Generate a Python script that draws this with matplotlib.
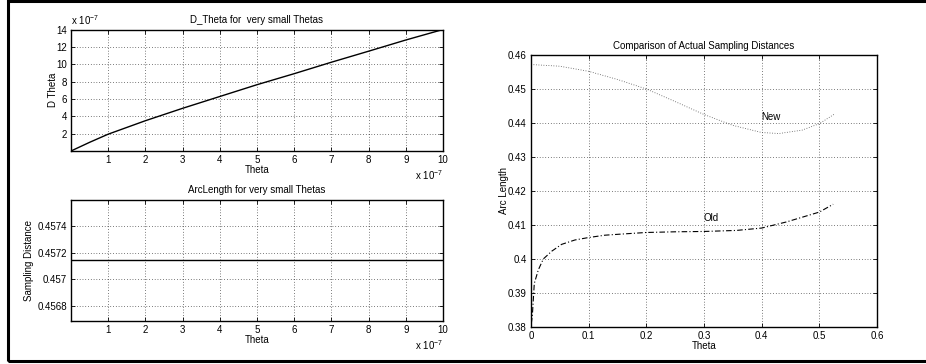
import matplotlib
matplotlib.use('Agg')
import matplotlib.pyplot as plt
from matplotlib.patches import Rectangle

plt.rcParams['font.family'] = ['Liberation Sans', 'DejaVu Sans']
plt.rcParams['font.size'] = 7
plt.rcParams['mathtext.default'] = 'regular'

# D_Theta for very small thetas (both axes in units of 1e-7)
small_theta = [0, 0.5, 1, 2, 3, 4, 5, 6, 7, 8, 9, 10]
d_theta = [0, 1.0, 1.94, 3.49, 4.92, 6.28, 7.64, 8.91, 10.23, 11.5, 12.79, 14.0]

# arc length for very small thetas (constant)
arc_theta = [0, 10]
arc_small = [0.457145, 0.457145]

# comparison of actual sampling distances
new_theta = [0.0, 0.05, 0.1, 0.15, 0.2, 0.25, 0.3, 0.35, 0.4, 0.43, 0.47, 0.5, 0.526]
new_arc = [0.4572, 0.4567, 0.4552, 0.4528, 0.4500, 0.4463, 0.4425, 0.4393, 0.4372, 0.4369, 0.4379, 0.4398, 0.4426]

old_theta = [0.0005, 0.0023, 0.0057, 0.0127, 0.0213, 0.036, 0.053, 0.0763, 0.0994, 0.128,
             0.154, 0.2, 0.25, 0.3, 0.356, 0.4, 0.443, 0.5, 0.524]
old_arc = [0.381, 0.3833, 0.3928, 0.3968, 0.4000, 0.4023, 0.4043, 0.4056, 0.4063, 0.4070,
           0.4073, 0.4078, 0.4080, 0.4081, 0.4084, 0.4091, 0.4109, 0.4138, 0.4161]


def matlab_style(ax):
    ax.tick_params(direction='in', top=True, right=True, length=3, width=0.6, pad=3)
    ax.grid(True, linestyle=(0, (1, 3)), color='black', linewidth=0.5)
    for s in ax.spines.values():
        s.set_linewidth(1.0)


fig = plt.figure(figsize=(9.26, 3.64), dpi=100)

# outer frame
fig.patches.append(Rectangle((8 / 926, 3 / 364), 1.0, 360 / 364, transform=fig.transFigure,
                             fill=False, edgecolor='black', linewidth=2.2, clip_on=False))

# top left
ax1 = fig.add_axes([71 / 926, 1 - 151 / 364, 372 / 926, 121.5 / 364])
ax1.plot(small_theta, d_theta, color='black', linewidth=1.0)
ax1.set_xlim(0, 10)
ax1.set_ylim(0, 14)
ax1.set_xticks(range(1, 11))
ax1.set_yticks(range(2, 15, 2))
matlab_style(ax1)
ax1.set_title('D_Theta for  very small Thetas', fontsize=7, pad=5)
ax1.set_xlabel('Theta', labelpad=0)
ax1.set_ylabel('D Theta', labelpad=-1.5)
ax1.text(0.0, 1.02, 'x 10$^{-7}$', transform=ax1.transAxes, ha='left', va='bottom')
ax1.text(1.0, -0.14, 'x 10$^{-7}$', transform=ax1.transAxes, ha='right', va='top')

# bottom left
ax2 = fig.add_axes([71 / 926, 1 - 321 / 364, 372 / 926, 121 / 364])
ax2.plot(arc_theta, arc_small, color='black', linewidth=1.0)
ax2.set_xlim(0, 10)
ax2.set_ylim(0.456687, 0.457595)
ax2.set_xticks(range(1, 11))
ax2.set_yticks([0.4568, 0.457, 0.4572, 0.4574])
ax2.set_yticklabels(['0.4568', '0.457', '0.4572', '0.4574'])
matlab_style(ax2)
ax2.set_title('ArcLength for very small Thetas', fontsize=7, pad=5)
ax2.set_xlabel('Theta', labelpad=0)
ax2.set_ylabel('Sampling Distance', labelpad=2)
ax2.text(1.0, -0.14, 'x 10$^{-7}$', transform=ax2.transAxes, ha='right', va='top')

# right
ax3 = fig.add_axes([531 / 926, 1 - 327 / 364, 346 / 926, 272 / 364])
ax3.plot(new_theta, new_arc, color='#555555', linestyle=(0, (1, 2)), linewidth=0.6)
ax3.plot(old_theta, old_arc, color='black', linestyle=(0, (5, 2, 1, 2)), linewidth=0.8)
ax3.set_xlim(0, 0.6)
ax3.set_ylim(0.38, 0.46)
ax3.set_xticks([0, 0.1, 0.2, 0.3, 0.4, 0.5, 0.6])
ax3.set_xticklabels(['0', '0.1', '0.2', '0.3', '0.4', '0.5', '0.6'])
ax3.set_yticks([0.38, 0.39, 0.4, 0.41, 0.42, 0.43, 0.44, 0.45, 0.46])
ax3.set_yticklabels(['0.38', '0.39', '0.4', '0.41', '0.42', '0.43', '0.44', '0.45', '0.46'])
matlab_style(ax3)
ax3.set_title('Comparison of Actual Sampling Distances', fontsize=7, pad=4)
ax3.set_xlabel('Theta', labelpad=0)
ax3.set_ylabel('Arc Length', labelpad=-1)
ax3.text(0.4, 0.4418, 'New', ha='left', va='center')
ax3.text(0.3, 0.4120, 'Old', ha='left', va='center')

fig.savefig('out.png', dpi=100)
